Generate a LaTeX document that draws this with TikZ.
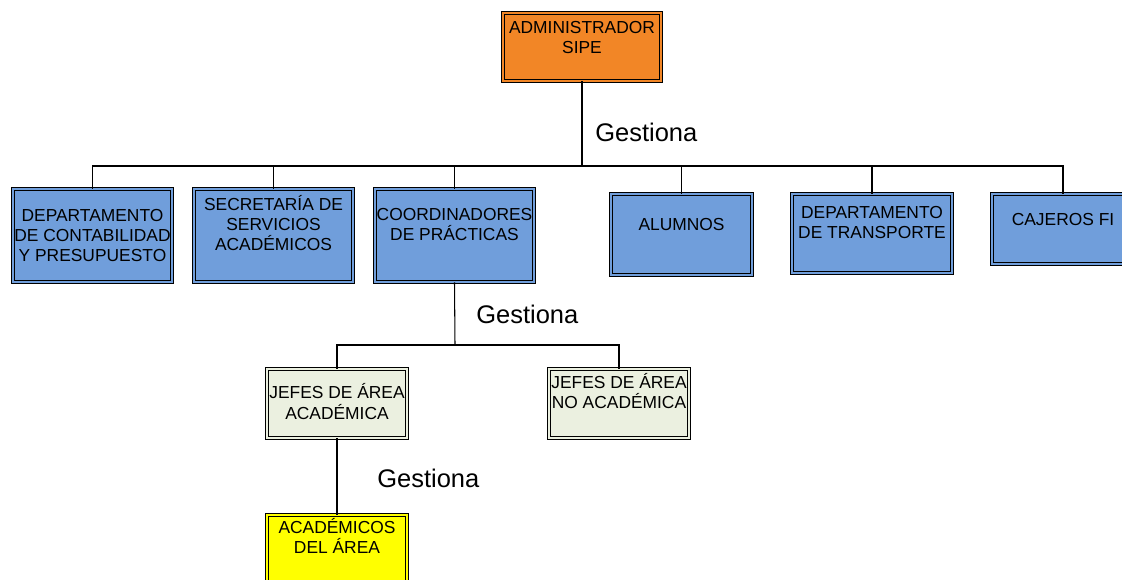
\documentclass[tikz,border=0pt]{standalone}
\usepackage{fontspec}
\setmainfont{Liberation Sans}
\definecolor{azul}{RGB}{112,158,219}
\definecolor{naranja}{RGB}{242,134,38}
\definecolor{crema}{RGB}{235,240,224}
\definecolor{amarillo}{RGB}{255,255,0}

\tikzset{
  caja/.style={draw=black, fill=#1, double=#1, double distance=1.4pt, line width=0.5pt, inner sep=0pt},
  rotulo/.style={anchor=north, align=center, inner sep=0pt, font=\fontsize{9.9}{11.5}\selectfont},
  gestiona/.style={anchor=west, inner sep=0pt, font=\fontsize{14.5}{17}\selectfont},
  linea/.style={line width=0.6pt}
}

\begin{document}
\begin{tikzpicture}[x=0.02cm, y=-0.02cm]
\useasboundingbox (0,0) rectangle (1122,580);

\node[caja=naranja, minimum width=3.16cm, minimum height=1.36cm,
  label={[rotulo, yshift=-0.16cm]north:ADMINISTRADOR\\SIPE}] (admin) at (582,47) {};

\node[caja=azul, minimum width=3.18cm, minimum height=1.86cm,
  label={[rotulo, yshift=-0.40cm]north:DEPARTAMENTO\\DE CONTABILIDAD\\Y PRESUPUESTO}] (contabilidad) at (92.5,235.5) {};
\node[caja=azul, minimum width=3.18cm, minimum height=1.86cm,
  label={[rotulo, yshift=-0.12cm]north:SECRETARÍA DE\\SERVICIOS\\ACADÉMICOS}] (secretaria) at (273.5,235.5) {};
\node[caja=azul, minimum width=3.18cm, minimum height=1.86cm,
  label={[rotulo, yshift=-0.38cm]north:COORDINADORES\\DE PRÁCTICAS}] (coordinadores) at (454.5,235.5) {};
\node[caja=azul, minimum width=2.82cm, minimum height=1.62cm,
  label={[rotulo, yshift=-0.48cm]north:ALUMNOS}] (alumnos) at (681.5,234.5) {};
\node[caja=azul, minimum width=3.20cm, minimum height=1.58cm,
  label={[rotulo, yshift=-0.24cm]north:DEPARTAMENTO\\DE TRANSPORTE}] (transporte) at (872,233.5) {};
\node[caja=azul, minimum width=2.84cm, minimum height=1.40cm,
  label={[rotulo, yshift=-0.38cm]north:CAJEROS FI}] (cajeros) at (1063,229) {};

\node[caja=crema, minimum width=2.80cm, minimum height=1.38cm,
  label={[rotulo, yshift=-0.30cm]north:JEFES DE ÁREA\\ACADÉMICA}] (jefesacad) at (337,403.5) {};
\node[caja=crema, minimum width=2.80cm, minimum height=1.38cm,
  label={[rotulo, yshift=-0.08cm]north:JEFES DE ÁREA\\NO ACADÉMICA}] (jefesnoacad) at (619,403.5) {};

\node[caja=amarillo, minimum width=2.80cm, minimum height=1.38cm,
  label={[rotulo, yshift=-0.06cm]north:ACADÉMICOS\\DEL ÁREA}] (academicos) at (337,549.5) {};

\coordinate (bus) at (582,166);
\coordinate (bus2) at (455,345);

% conectores
\draw[line width=1.1pt] (admin.south) -- (bus);
\draw[linea] (contabilidad.north) |- (bus) -| (cajeros.north);
\foreach \n in {secretaria,coordinadores,alumnos,transporte}
  \draw[linea] (\n.north) -- (\n.north |- bus);
\draw[linea] (coordinadores.south) -- (bus2);
\draw[linea] (jefesacad.north) |- (bus2) -| (jefesnoacad.north);
\draw[linea] (jefesacad.south) -- (academicos.north);

\node[gestiona] (gestiona1) at (595,132) {Gestiona};
\node[gestiona] (gestiona2) at (476,314) {Gestiona};
\node[gestiona] (gestiona3) at (377,478) {Gestiona};
\end{tikzpicture}
\end{document}
